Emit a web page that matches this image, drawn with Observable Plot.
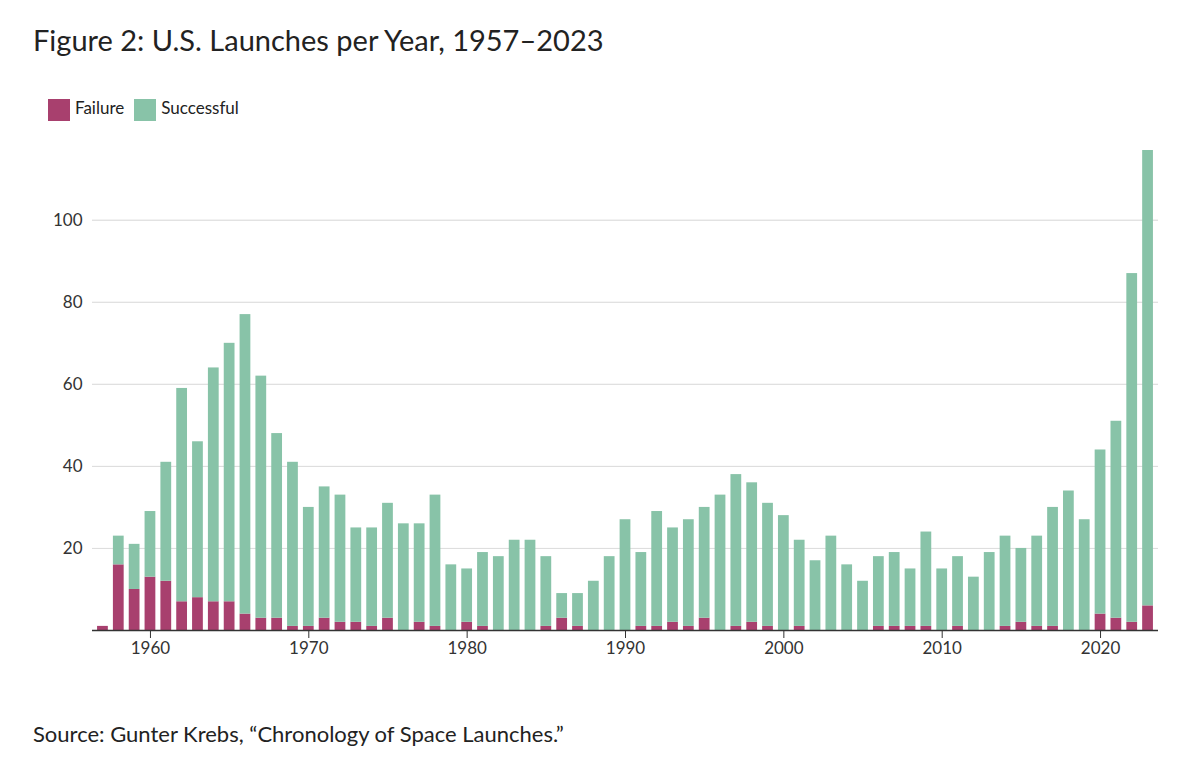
<!DOCTYPE html>
<html><head><meta charset="utf-8">
<script src="https://cdn.jsdelivr.net/npm/d3@7"></script>
<script src="https://cdn.jsdelivr.net/npm/@observablehq/plot@0.6"></script>
<style>
body{margin:0;background:#fff;font-family:Lato,"Noto Sans",sans-serif;color:#222}
h1{font-weight:400;font-size:29px;margin:0;position:absolute;left:33px;top:22px}
.legend{position:absolute;left:48px;top:97px;font-size:17px;display:flex;gap:10px;align-items:center}
.sw{display:inline-block;width:22px;height:22px;vertical-align:middle;margin-right:5px}
#chart{position:absolute;left:0;top:140px}
.src{position:absolute;left:33px;top:720px;font-size:22px}
</style></head><body>
<h1>Figure 2: U.S. Launches per Year, 1957–2023</h1>
<div class="legend"><span><span class="sw" style="background:#a8406e"></span>Failure</span><span><span class="sw" style="background:#88c3a8"></span>Successful</span></div>
<div id="chart"></div>
<div class="src">Source: Gunter Krebs, “Chronology of Space Launches.”</div>
<script>
const years = d3.range(1957, 2024);
const failures = [1,16,10,13,12,7,8,7,7,4,3,3,1,1,3,2,2,1,3,0,2,1,0,2,1,0,0,0,1,3,1,0,0,0,1,1,2,1,3,0,1,2,1,0,1,0,0,0,0,1,1,1,1,0,1,0,0,1,2,1,1,0,0,4,3,2,6];
const successes = [0,7,11,16,29,52,38,57,63,73,59,45,40,29,32,31,23,24,28,26,24,32,16,13,18,18,22,22,17,6,8,12,18,27,18,28,23,26,27,33,37,34,30,28,21,17,23,16,12,17,18,14,23,15,17,13,19,22,18,22,29,34,27,40,48,85,111];
const yTicks = [20,40,60,80,100];
const data = [];
years.forEach((y,i)=>{
  data.push({year:y, type:"Failure", value:failures[i]});
  data.push({year:y, type:"Successful", value:successes[i]});
});
const chart = Plot.plot({
  width:1200, height:530,
  marginLeft:92, marginRight:42, marginTop:10, marginBottom:40,
  style:{fontFamily:"Lato, 'Noto Sans', sans-serif", fontSize:"17px", color:"#333"},
  x:{type:"band", domain:years, padding:0.32, label:null, tickSize:8,
     ticks:years.filter(y=>y%10===0), tickFormat:d=>String(d)},
  y:{domain:[0,117], ticks:yTicks, label:null, grid:true, tickSize:0, tickPadding:10},
  color:{domain:["Failure","Successful"], range:["#a8406e","#88c3a8"]},
  marks:[
    Plot.gridY(yTicks,{stroke:"#ddd", strokeOpacity:1}),
    Plot.barY(data, Plot.stackY({x:"year", y:"value", fill:"type", order:["Failure","Successful"]})),
    Plot.ruleY([0],{stroke:"#333", strokeWidth:1.5})
  ]
});
document.getElementById("chart").appendChild(chart);
</script>
</body></html>
